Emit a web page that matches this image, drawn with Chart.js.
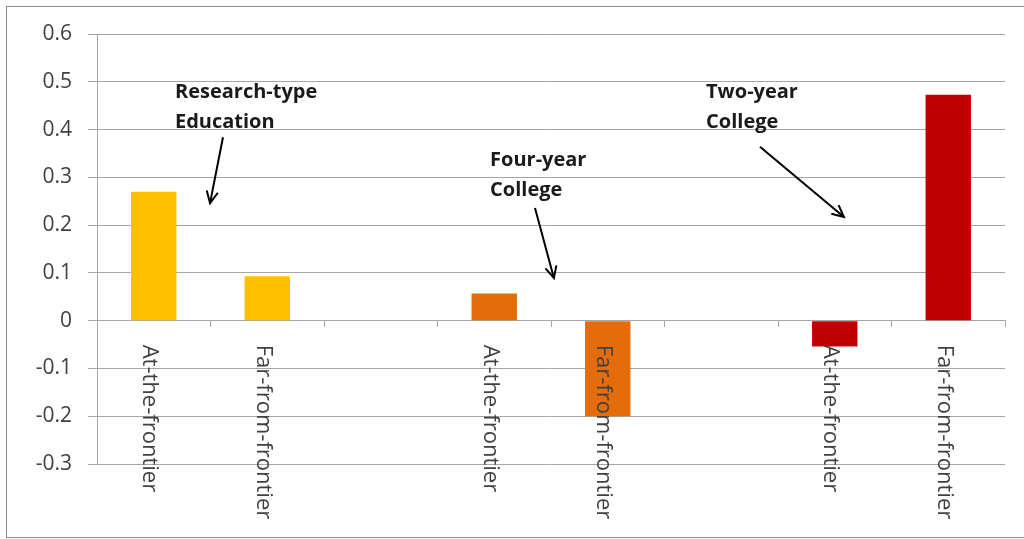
<!DOCTYPE html>
<html>
<head>
<meta charset="utf-8">
<script src="https://cdn.jsdelivr.net/npm/chart.js@4"></script>
<style>
  html, body { margin: 0; padding: 0; background: #fff; }
  #wrap { width: 1024px; height: 539px; }
</style>
</head>
<body>
<div id="wrap"><canvas id="myChart" width="1024" height="539"></canvas></div>
<script>
// categories (blank slots separate the three groups)
var categories = ['At-the-frontier', 'Far-from-frontier', '', 'At-the-frontier', 'Far-from-frontier', '', 'At-the-frontier', 'Far-from-frontier'];
var values = [0.27, 0.093, null, 0.057, -0.2, null, -0.054, 0.473];
var barColors = ['#FFC000', '#FFC000', '#FFC000', '#E46C0A', '#E46C0A', '#E46C0A', '#C00000', '#C00000'];

// annotation texts and arrows, in data units (category index, value)
var noteLines = [['Research-type', 'Education'], ['Four-year', 'College'], ['Two-year', 'College']];
var noteX = [0.187, 2.963, 4.866];
var noteY = [0.479, 0.336, 0.479];
var arrowFrom = [[0.61, 0.384], [3.359, 0.236], [5.341, 0.364]];
var arrowTo = [[0.496, 0.246], [3.526, 0.089], [6.081, 0.217]];

var yMin = -0.3, yMax = 0.6, yStep = 0.1;

var txtFont = "'Open Sans', 'Liberation Sans', sans-serif";
var gridColor = '#a6a6a6';

var framePlugin = {
  id: 'frame',
  beforeDraw: function(chart) {
    var c = chart.ctx;
    c.save();
    c.fillStyle = '#fff';
    c.fillRect(0, 0, chart.width, chart.height);
    c.strokeStyle = '#8c8c8c';
    c.lineWidth = 1;
    c.strokeRect(6.5, 6.5, chart.width, chart.height - 8);
    c.restore();
  }
};

// category labels read top to bottom, just below the zero line
var catLabelPlugin = {
  id: 'catLabels',
  afterDraw: function(chart) {
    var c = chart.ctx;
    var xs = chart.scales.x, ys = chart.scales.y;
    var y0 = ys.getPixelForValue(0);
    c.save();
    c.font = '22px ' + txtFont;
    c.fillStyle = '#404040';
    c.textAlign = 'left';
    c.textBaseline = 'middle';
    categories.forEach(function(lab, i) {
      if (!lab) return;
      c.save();
      c.translate(xs.getPixelForValue(i) - 4, y0 + 24);
      c.rotate(Math.PI / 2);
      c.fillText(lab, 0, 0);
      c.restore();
    });
    c.restore();
  }
};

var notePlugin = {
  id: 'notes',
  afterDraw: function(chart) {
    var c = chart.ctx;
    var xs = chart.scales.x, ys = chart.scales.y;
    c.save();
    c.font = 'bold 20px ' + txtFont;
    c.fillStyle = '#1a1a1a';
    c.textAlign = 'left';
    c.textBaseline = 'middle';
    noteLines.forEach(function(lines, i) {
      var px = xs.getPixelForValue(noteX[i]);
      var py = ys.getPixelForValue(noteY[i]);
      lines.forEach(function(t, k) { c.fillText(t, px, py + k * 30); });
    });
    c.strokeStyle = '#000';
    c.lineWidth = 2;
    arrowFrom.forEach(function(a, i) {
      var x1 = xs.getPixelForValue(a[0]), y1 = ys.getPixelForValue(a[1]);
      var x2 = xs.getPixelForValue(arrowTo[i][0]), y2 = ys.getPixelForValue(arrowTo[i][1]);
      var ang = Math.atan2(y2 - y1, x2 - x1);
      var h = 13;
      c.beginPath();
      c.moveTo(x1, y1);
      c.lineTo(x2, y2);
      c.moveTo(x2 - h * Math.cos(ang - 0.45), y2 - h * Math.sin(ang - 0.45));
      c.lineTo(x2, y2);
      c.lineTo(x2 - h * Math.cos(ang + 0.45), y2 - h * Math.sin(ang + 0.45));
      c.stroke();
    });
    c.restore();
  }
};

var ctx = document.getElementById('myChart').getContext('2d');
var myChart = new Chart(ctx, {
  type: 'bar',
  data: {
    labels: categories,
    datasets: [{
      data: values,
      backgroundColor: barColors,
      barPercentage: 0.4,
      categoryPercentage: 1
    }]
  },
  options: {
    responsive: false,
    animation: false,
    layout: { padding: { left: 7, top: 34, right: 19, bottom: 75 } },
    plugins: { legend: { display: false }, tooltip: { enabled: false } },
    scales: {
      x: {
        position: { y: 0 },
        ticks: { display: false },
        grid: { drawOnChartArea: false, offset: true, tickLength: 6, color: gridColor },
        border: { color: gridColor }
      },
      y: {
        min: yMin,
        max: yMax,
        afterFit: function(s) { s.width = 90; },
        ticks: {
          stepSize: yStep,
          padding: 16,
          color: '#404040',
          font: { family: txtFont, size: 21 },
          callback: function(v) { return String(Math.round(v * 10) / 10); }
        },
        grid: { color: gridColor, tickLength: 9 },
        border: { color: gridColor }
      }
    }
  },
  plugins: [framePlugin, catLabelPlugin, notePlugin]
});
</script>
</body>
</html>
